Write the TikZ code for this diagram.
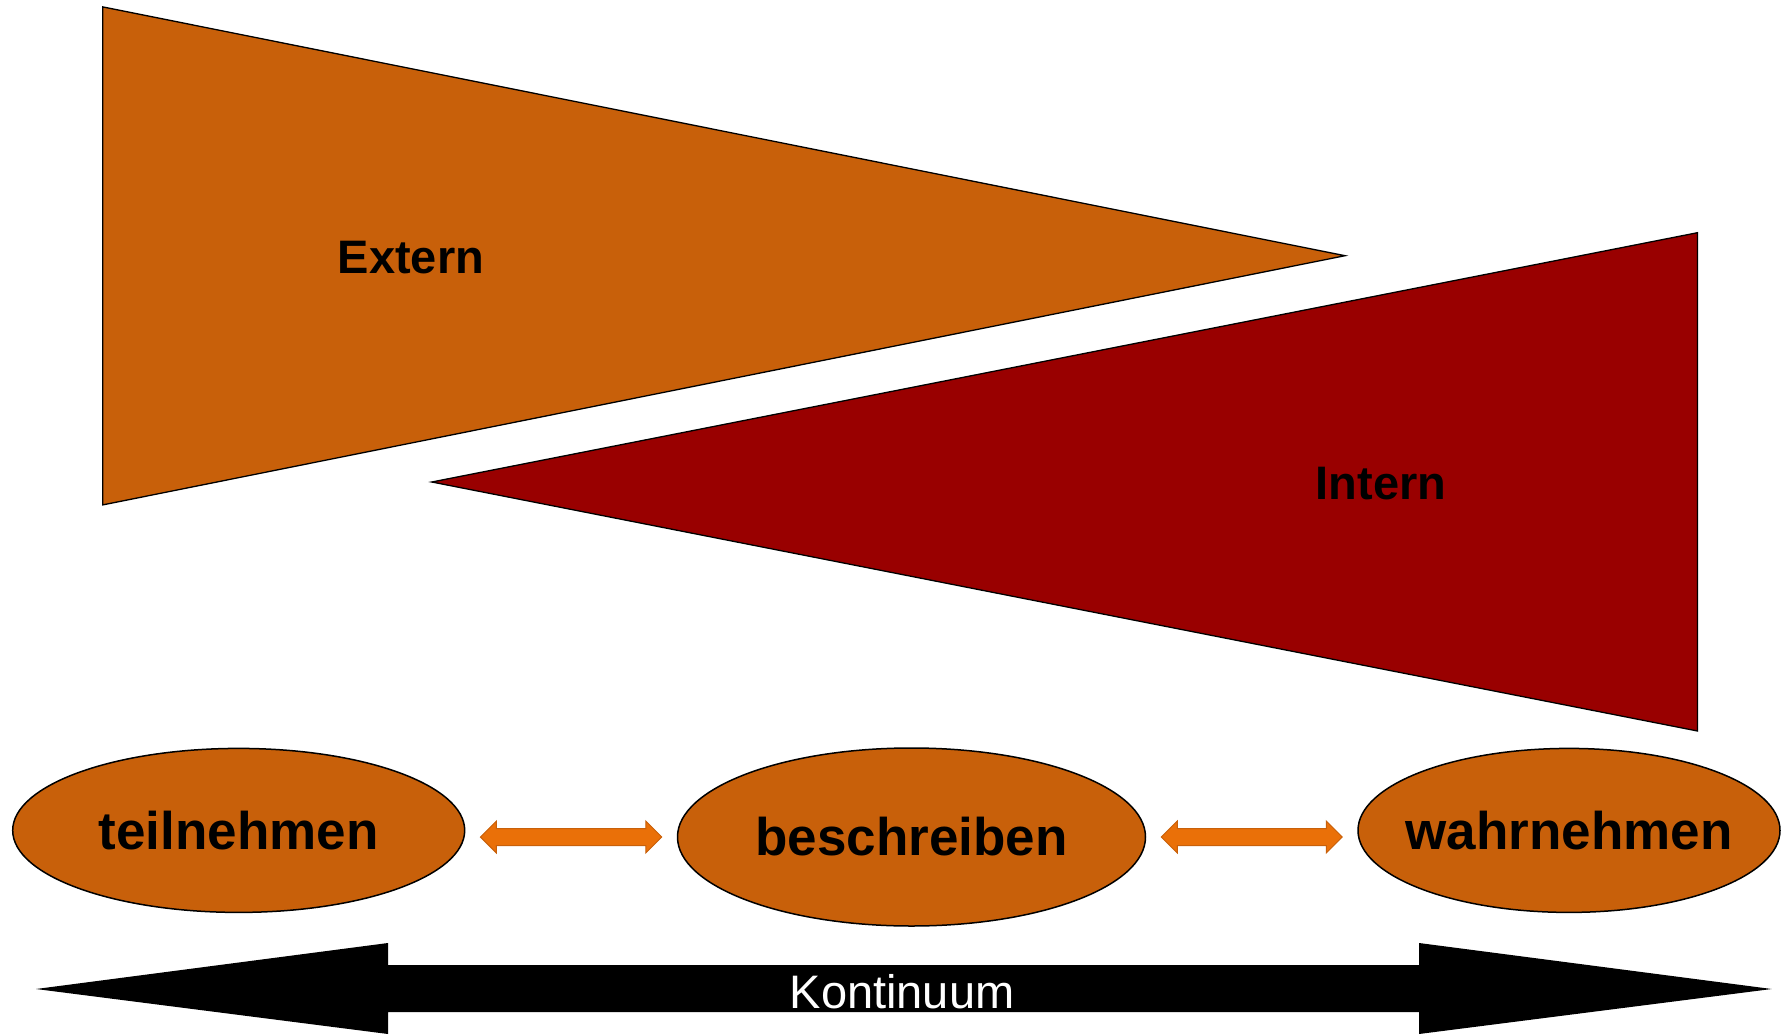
\documentclass[tikz,border=0pt]{standalone}
\usepackage{fontspec}
\setmainfont{Liberation Sans}
\usetikzlibrary{shapes.geometric,calc}
\definecolor{rust}{RGB}{200,96,10}
\definecolor{darkred}{RGB}{153,0,0}
\definecolor{brightorange}{RGB}{234,112,8}
\tikzset{
  wedge/.style={draw=black, line width=1.3pt, line join=miter},
  stage/.style={ellipse, draw=black, line width=1.5pt, fill=rust, inner sep=0pt,
    font=\fontsize{53}{60}\selectfont\bfseries},
  wedgelabel/.style={font=\fontsize{47}{54}\selectfont\bfseries, inner sep=0pt},
  dbl/.style={fill=brightorange, draw=rust, line width=1pt, line join=miter},
}
% zero-width text so the ellipse keeps its given size
\newcommand{\stagetext}[1]{\makebox[0pt]{#1}}
\begin{document}
\begin{tikzpicture}[x=1pt, y=-1pt]
\useasboundingbox (0,0) rectangle (1791,1035);

% external wedge, narrowing to the right
\draw[wedge, fill=rust] (102.8,6.9) -- (1345,255.7) -- (102.8,504.9) -- cycle;
\node[wedgelabel] (ext) at (411,258) {Extern};

% internal wedge, widening to the right
\draw[wedge, fill=darkred] (431.8,482) -- (1697.5,232.7) -- (1697.5,731) -- cycle;
\node[wedgelabel] (int) at (1381,484) {Intern};

% the three stages
\node[stage, minimum width=452, minimum height=164] (t) at (238.7,830.4) {\stagetext{teilnehmen}};
\node[stage, minimum width=468, minimum height=178] (b) at (911.5,837) {\stagetext{beschreiben}};
\node[stage, minimum width=422, minimum height=164] (w) at (1569,830.4) {\stagetext{wahrnehmen}};

% double-headed connectors between the stages
\coordinate (a1) at ($(t.east |- b.center)+(15,0)$);
\coordinate (a2) at ($(b.west)+(-15,0)$);
\coordinate (c1) at ($(b.east)+(15,0)$);
\coordinate (c2) at ($(w.west |- b.center)+(-15,0)$);
\foreach \p/\q in {a1/a2, c1/c2}{
  \draw[dbl] (\p) -- ($(\p)+(16,-16)$) -- ($(\p)+(16,-8.5)$) -- ($(\q)+(-16,-8.5)$)
    -- ($(\q)+(-16,-16)$) -- (\q) -- ($(\q)+(-16,16)$) -- ($(\q)+(-16,8.5)$)
    -- ($(\p)+(16,8.5)$) -- ($(\p)+(16,16)$) -- cycle;
}

% continuum arrow
\fill[black] (36,989) -- (388,943) -- (388,965) -- (1419,965) -- (1419,943)
  -- (1771.7,989) -- (1419,1034) -- (1419,1012) -- (388,1012) -- (388,1034) -- cycle;
\node[text=white, font=\fontsize{47}{54}\selectfont, inner sep=0pt] (k) at (902,991.5) {Kontinuum};
\end{tikzpicture}
\end{document}
